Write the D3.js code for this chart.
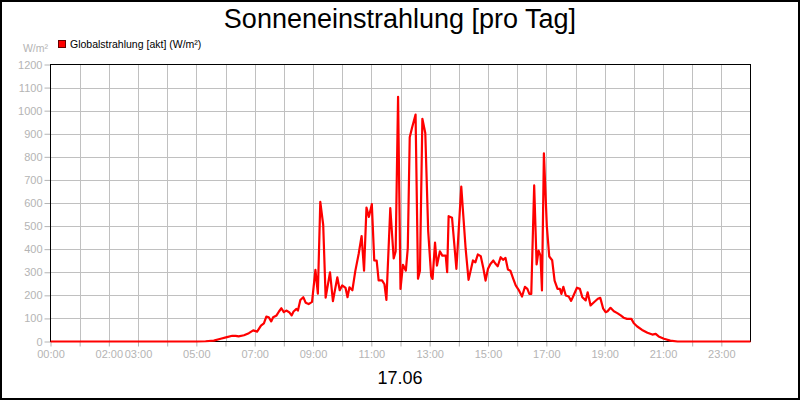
<!DOCTYPE html>
<html><head><meta charset="utf-8">
<script src="https://cdn.jsdelivr.net/npm/d3@7"></script>
<style>body{margin:0;background:#fff}svg{display:block;font-family:"Liberation Sans",Arial,sans-serif}</style>
</head><body>
<svg id="c" width="800" height="400"></svg>
<script>
const title = "Sonneneinstrahlung [pro Tag]";
const dateLabel = "17.06";
const seriesName = "Globalstrahlung [akt] (W/m²)";
const unitLabel = "W/m²";
const yTicks = [0,100,200,300,400,500,600,700,800,900,1000,1100,1200];
const xTickLabels = ["00:00","02:00","03:00","05:00","07:00","09:00","11:00","13:00","15:00","17:00","19:00","21:00","23:00"];
const times = ["00:00","05:00","05:19","05:36","05:50","06:03","06:14","06:21","06:27","06:38","06:48","06:57","07:05","07:13","07:19","07:24","07:29","07:34","07:38","07:45","07:50","07:55","08:00","08:05","08:11","08:16","08:20","08:26","08:29","08:34","08:40","08:45","08:51","08:58","09:05","09:10","09:15","09:21","09:26","09:35","09:41","09:50","09:55","10:00","10:07","10:11","10:15","10:21","10:27","10:34","10:40","10:45","10:50","10:55","11:01","11:06","11:11","11:15","11:22","11:27","11:31","11:39","11:46","11:50","11:55","12:00","12:05","12:11","12:15","12:19","12:24","12:31","12:36","12:40","12:45","12:51","12:57","13:03","13:06","13:11","13:15","13:21","13:26","13:33","13:36","13:39","13:46","13:55","14:05","14:14","14:20","14:29","14:34","14:39","14:45","14:50","14:55","15:00","15:05","15:11","15:15","15:20","15:26","15:31","15:36","15:41","15:46","15:52","15:57","16:03","16:10","16:16","16:21","16:25","16:29","16:35","16:40","16:44","16:48","16:51","16:55","17:01","17:06","17:12","17:17","17:23","17:28","17:31","17:35","17:40","17:46","17:51","17:56","18:03","18:09","18:14","18:21","18:25","18:31","18:38","18:46","18:51","18:57","19:02","19:06","19:12","19:19","19:26","19:33","19:39","19:46","19:55","20:00","20:07","20:17","20:28","20:38","20:45","20:51","21:02","21:15","21:30","24:00"];
const values = [0,0,1,4,12,19,25,24,22,27,36,48,43,69,79,108,105,87,105,113,130,144,127,134,127,113,130,141,134,180,192,168,162,172,310,207,605,505,190,300,175,278,222,243,232,192,235,222,305,380,457,307,580,540,595,351,350,265,265,248,180,578,360,390,1060,228,332,307,405,885,928,983,272,307,965,903,477,285,271,428,329,391,372,372,300,543,536,315,671,402,267,351,343,377,370,322,264,315,336,351,338,326,365,354,362,312,307,271,243,224,195,237,228,206,206,676,334,394,372,221,815,500,368,352,264,228,228,206,237,199,195,176,199,233,228,192,178,213,156,170,185,189,142,127,131,146,131,123,113,103,98,98,79,65,50,38,30,33,22,12,4,0,0];

const toH = s => { const [h,m] = s.split(":").map(Number); return h + m/60; };
const data = times.map((t,i)=>({h:toH(t), v:values[i]}));

const svg = d3.select("#c");
const L=50.5, R=750.5, T=64.5, B=341.5;
const x = d3.scaleLinear().domain([0,24]).range([L,R]);
const y = d3.scaleLinear().domain([0,1200]).range([B,T]);
const grey = "#b4b4b4", grid = "#c0c0c0";

svg.append("rect").attr("x",1).attr("y",1).attr("width",798).attr("height",398)
  .attr("fill","#fff").attr("stroke","#000").attr("stroke-width",2);

// grid
svg.append("g").selectAll("line").data(d3.range(1,24)).join("line")
  .attr("x1",d=>Math.round(x(d))+0.5).attr("x2",d=>Math.round(x(d))+0.5)
  .attr("y1",T).attr("y2",B).attr("stroke",grid);
svg.append("g").selectAll("line").data(yTicks.slice(1,-1)).join("line")
  .attr("x1",L).attr("x2",R).attr("y1",d=>Math.round(y(d))+0.5).attr("y2",d=>Math.round(y(d))+0.5).attr("stroke",grid);

// y axis
const ya = svg.append("g").attr("transform",`translate(${L},0)`)
  .call(d3.axisLeft(y).tickValues(yTicks).tickFormat(d3.format("d")).tickSize(6).tickPadding(2).tickSizeOuter(0));
ya.select(".domain").remove();
ya.selectAll(".tick line").attr("stroke",grey);
ya.selectAll(".tick text").attr("fill",grey).attr("font-size","11px").attr("font-family","Liberation Sans, Arial, sans-serif");

// x axis
const xa = svg.append("g").attr("transform",`translate(0,${B})`)
  .call(d3.axisBottom(x).tickValues(d3.range(0,24)).tickSize(5).tickPadding(4).tickSizeOuter(0)
    .tickFormat(d=>{const s=String(d).padStart(2,"0")+":00"; return xTickLabels.includes(s)?s:"";}));
xa.select(".domain").remove();
xa.selectAll(".tick line").attr("stroke",grey);
xa.selectAll(".tick text").attr("fill",grey).attr("font-size","11px").attr("font-family","Liberation Sans, Arial, sans-serif");

// frame
svg.append("rect").attr("x",L).attr("y",T).attr("width",R-L).attr("height",B-T)
  .attr("fill","none").attr("stroke","#000");

// line
svg.append("path").datum(data)
  .attr("d",d3.line().x(d=>x(d.h)).y(d=>y(d.v)))
  .attr("fill","none").attr("stroke","#ff0000").attr("stroke-width",2.2).attr("stroke-linejoin","round");

// title
svg.append("text").attr("x",400).attr("y",28).attr("text-anchor","middle")
  .attr("font-size","27px").attr("fill","#000").text(title);
svg.append("text").attr("x",400).attr("y",384).attr("text-anchor","middle")
  .attr("font-size","18px").attr("fill","#000").text(dateLabel);
// unit
svg.append("text").attr("x",48).attr("y",52).attr("text-anchor","end")
  .attr("font-size","10.5px").attr("fill",grey).text(unitLabel);
// legend
svg.append("rect").attr("x",58.5).attr("y",40.5).attr("width",7).attr("height",7)
  .attr("fill","#ff0000").attr("stroke","#600").attr("stroke-width",1);
svg.append("text").attr("x",70).attr("y",48).attr("font-size","10.5px").attr("fill","#000").text(seriesName);
</script>
</body></html>
